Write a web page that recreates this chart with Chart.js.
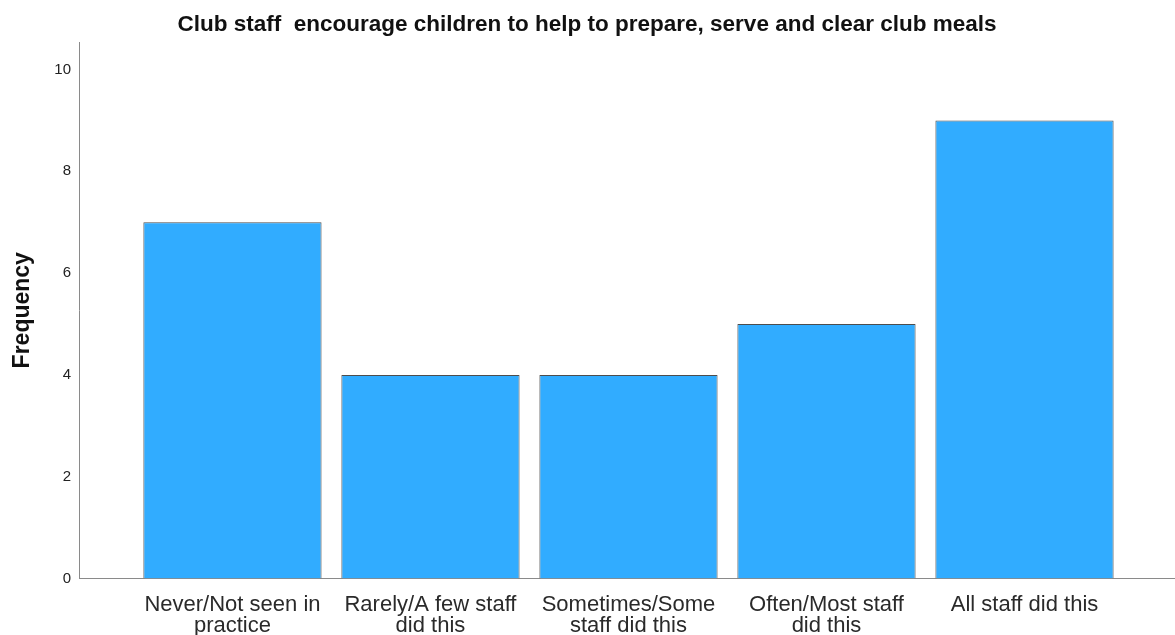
<!DOCTYPE html>
<html>
<head>
<meta charset="utf-8">
<script src="https://cdn.jsdelivr.net/npm/chart.js@4.4.1/dist/chart.umd.min.js"></script>
<style>
    html, body { margin: 0; padding: 0; background: #fff; }
    #wrap { width: 1175px; height: 635px; }
</style>
</head>
<body>
<div id="wrap"><canvas id="freqChart"></canvas></div>
<script>
// categories, split into the two lines shown under each bar
var categories = [
    ["Never/Not seen in", "practice"],
    ["Rarely/A few staff", "did this"],
    ["Sometimes/Some", "staff did this"],
    ["Often/Most staff", "did this"],
    ["All staff did this"]
];
var frequencies = [7, 4, 4, 5, 9];
var yTicks = [0, 2, 4, 6, 8, 10];

const FONT = "Arial, 'Liberation Sans', sans-serif";

var points = [];
for (var i = 0; i < frequencies.length; i++) {
    points.push({ x: i + 1, y: frequencies[i] });
}

var ctx = document.getElementById("freqChart").getContext("2d");

var freqChart = new Chart(ctx, {
    type: 'bar',
    data: {
        datasets: [{
            label: 'Frequency',
            data: points,
            backgroundColor: '#31acff',
            borderColor: '#4d4d4d',
            borderWidth: 1,
            barPercentage: 0.9,
            categoryPercentage: 1
        }]
    },
    options: {
        responsive: true,
        maintainAspectRatio: false,
        animation: false,
        layout: {
            padding: { left: 0, right: 1, top: 0, bottom: 0 }
        },
        scales: {
            x: {
                type: 'linear',
                offset: false,
                min: 0.225,
                max: 5.755,
                grid: { display: false, drawTicks: false, offset: false },
                border: { display: true, color: '#8a8a8a', width: 1 },
                afterBuildTicks: function(scale) {
                    scale.ticks = categories.map((c, i) => ({ value: i + 1 }));
                },
                afterFit: function(scale) {
                    scale.height = 56.5;
                },
                ticks: {
                    autoSkip: false,
                    maxRotation: 0,
                    padding: 16,
                    color: '#2a2a2a',
                    font: { family: FONT, size: 22, lineHeight: 0.95 },
                    callback: function(value) {
                        return categories[value - 1];
                    }
                }
            },
            y: {
                min: 0,
                max: 10.54,
                grid: { display: false, drawTicks: false },
                border: { display: true, color: '#8a8a8a', width: 1 },
                afterBuildTicks: function(scale) {
                    scale.ticks = yTicks.map(v => ({ value: v }));
                },
                afterFit: function(scale) {
                    scale.width = 79;
                },
                ticks: {
                    padding: 8,
                    color: '#222',
                    font: { family: FONT, size: 15 }
                },
                title: {
                    display: true,
                    text: 'Frequency',
                    color: '#111',
                    padding: { top: 9, bottom: 0 },
                    font: { family: FONT, size: 23, weight: 'bold', lineHeight: 1.2 }
                }
            }
        },
        plugins: {
            legend: { display: false },
            tooltip: { enabled: false },
            title: {
                display: true,
                text: 'Club staff  encourage children to help to prepare, serve and clear club meals',
                color: '#111',
                padding: { top: 11, bottom: 4 },
                font: { family: FONT, size: 22.5, weight: 'bold', lineHeight: 1.2 }
            }
        }
    }
});
</script>
</body>
</html>
